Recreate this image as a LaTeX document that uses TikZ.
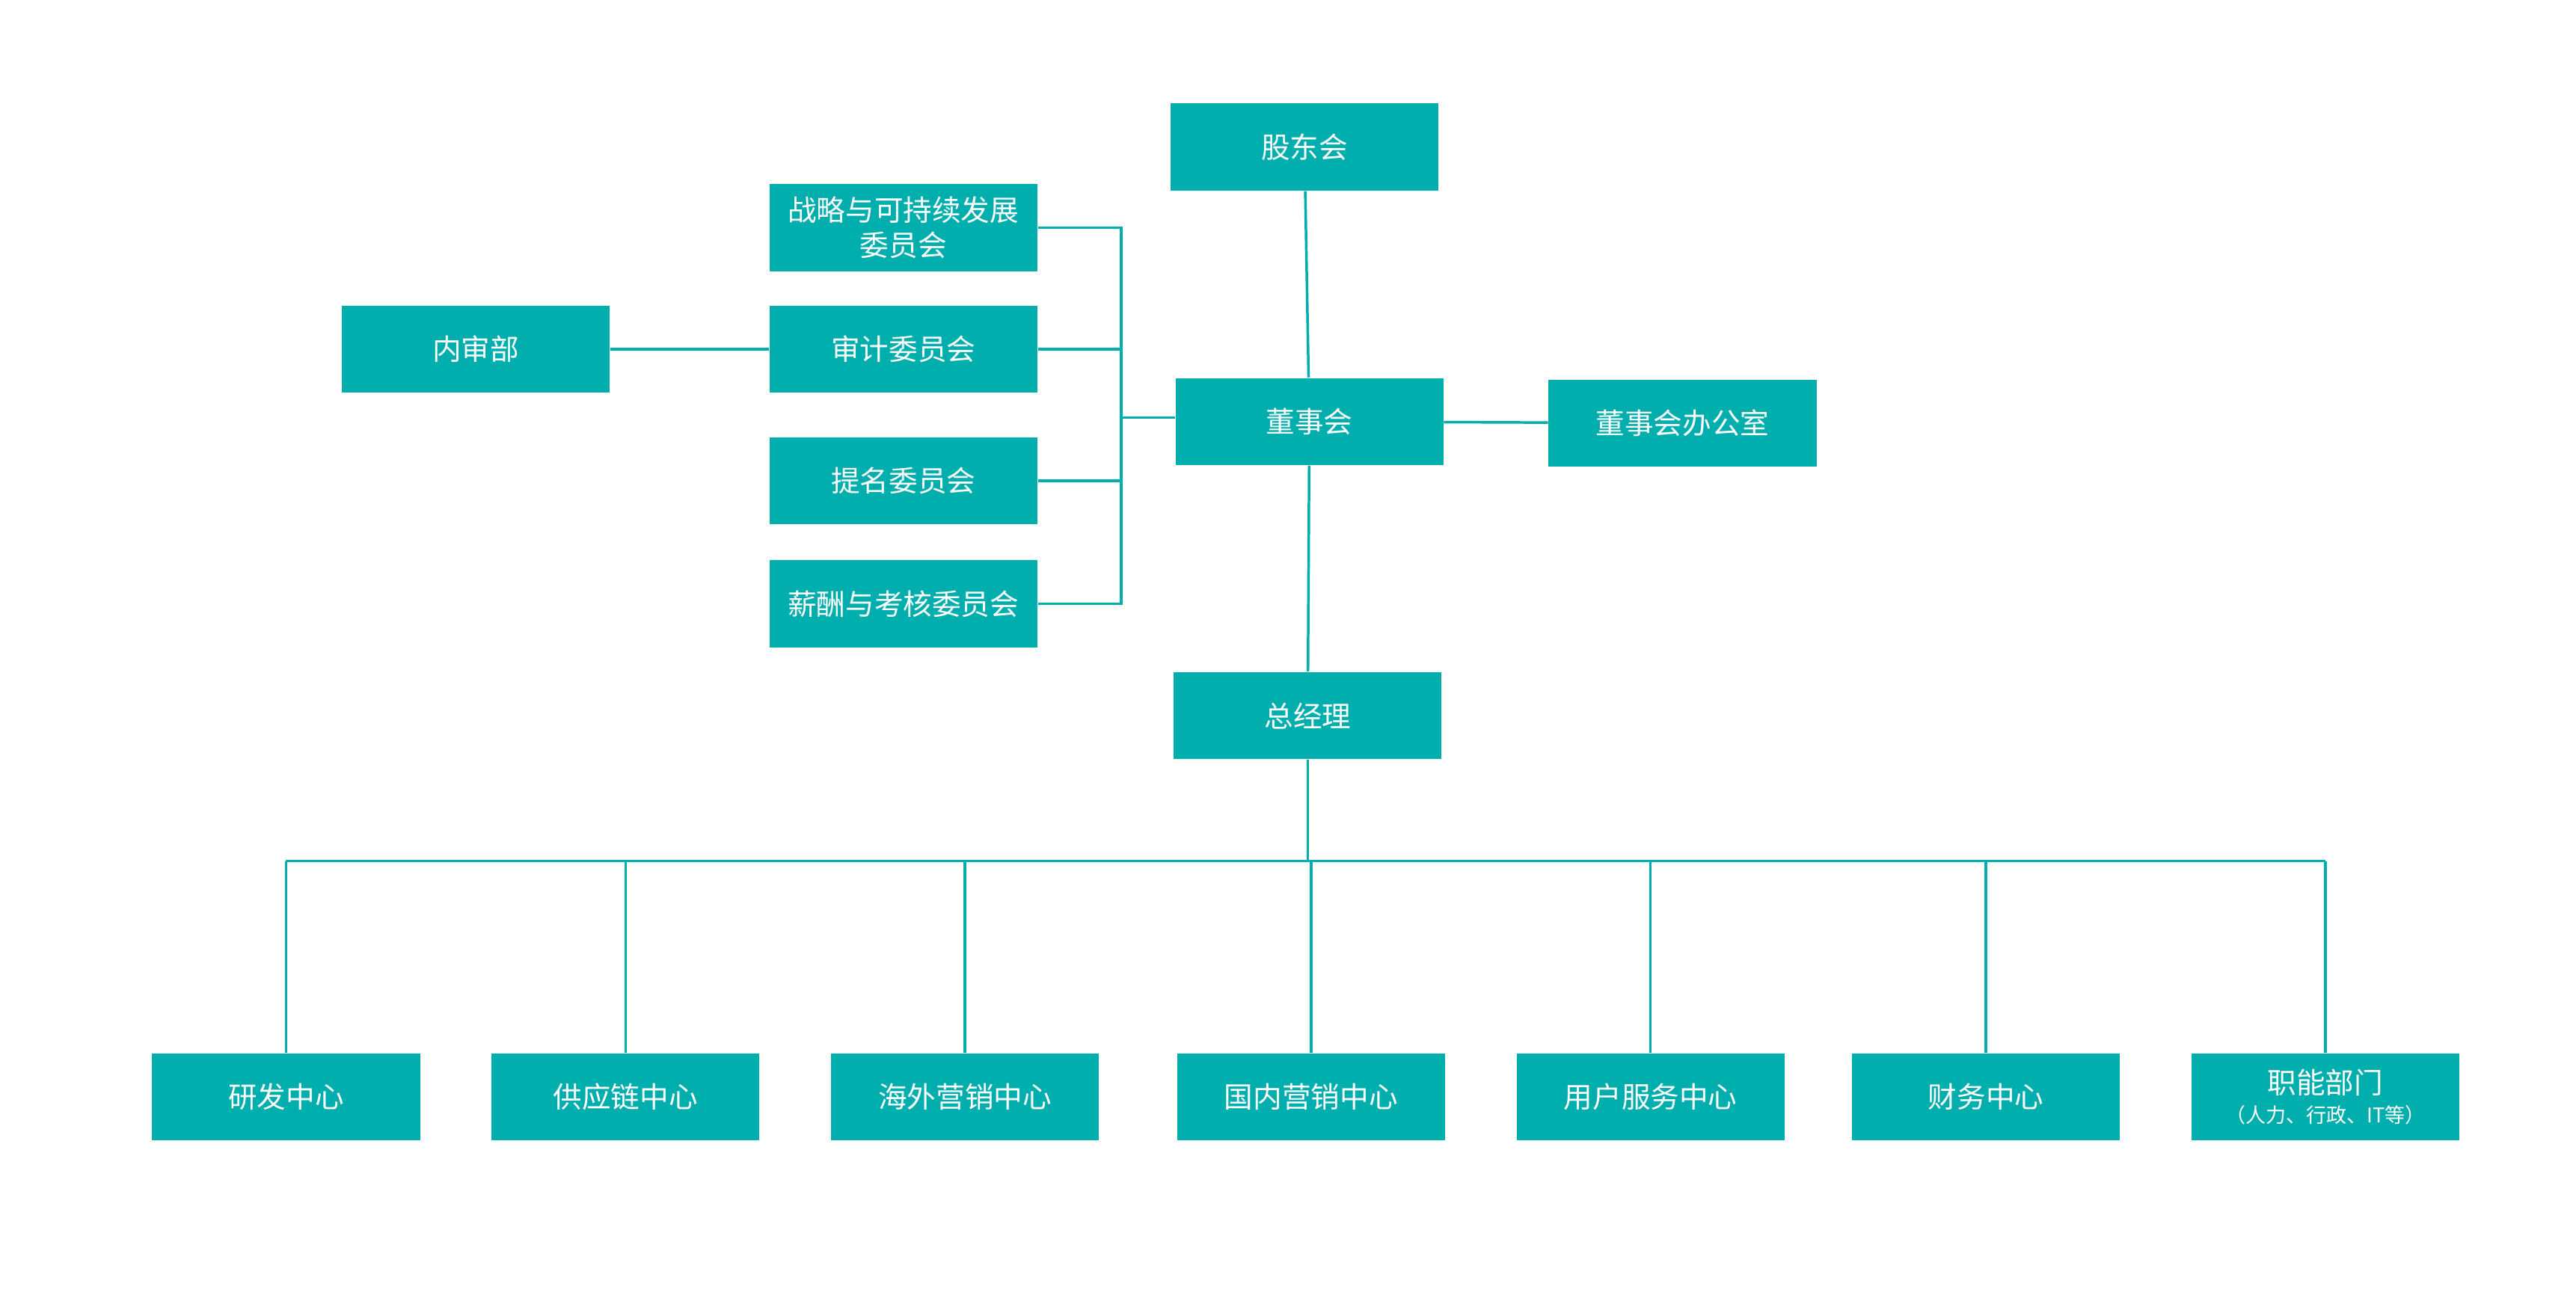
\documentclass[tikz,border=0pt]{standalone}
\usepackage{fontspec}
\newfontfamily\cjk{Noto Sans CJK SC}
\definecolor{teal0}{RGB}{0,174,174}
\begin{document}
\begin{tikzpicture}[x=0.02cm,y=-0.02cm,
    box/.style={fill=teal0,text=white,minimum width=3.26cm,minimum height=1.06cm,
      inner sep=1pt,align=center,font=\cjk\fontsize{10}{12}\selectfont},
    link/.style={draw=teal0,line width=0.9pt}]
        \useasboundingbox[fill=white] (0,0) rectangle (1567,797);

        % top level
        \node[box] (gdh) at (793.5,89.5) {股东会};
        \node[box] (dsh) at (796.5,256.5) {董事会};
        \node[box] (bgs) at (1023.5,257.5) {董事会办公室};
        \node[box] (zjl) at (795.5,435.5) {总经理};

        % committees
        \node[box] (zl) at (549.5,138.5) {战略与可持续发展\\委员会};
        \node[box] (sj) at (549.5,212.5) {审计委员会};
        \node[box] (ns) at (289.5,212.5) {内审部};
        \node[box] (tm) at (549.5,292.5) {提名委员会};
        \node[box] (xc) at (549.5,367.5) {薪酬与考核委员会};

        % centers
        \node[box] (yf) at (174,667.5) {研发中心};
        \node[box] (gyl) at (380.5,667.5) {供应链中心};
        \node[box] (hw) at (587,667.5) {海外营销中心};
        \node[box] (gn) at (797.5,667.5) {国内营销中心};
        \node[box] (yh) at (1004,667.5) {用户服务中心};
        \node[box] (cw) at (1208,667.5) {财务中心};
        \node[box] (zn) at (1414.5,667.5) {职能部门\\[-2pt]{\fontsize{7}{8}\selectfont （人力、行政、IT等）}};

        \coordinate (cbus) at (682,254);
        \coordinate (bus) at (0,524);

        \draw[link] (gdh) -- (dsh);
        \draw[link] (dsh) -- (bgs);
        \draw[link] (dsh) -- (zjl);
        \draw[link] (ns) -- (sj);
        \draw[link] (dsh.west |- cbus) -- (cbus);
        \draw[link] (zl.east) -- (zl.east -| cbus) -- (xc.east -| cbus) -- (xc.east);
        \foreach \n in {sj,tm}
            \draw[link] (\n.east) -- (\n.east -| cbus);

        \draw[link] (zjl.south) -- (zjl.south |- bus);
        \draw[link] (yf.north |- bus) -- (zn.north |- bus);
        \foreach \n in {yf,gyl,hw,gn,yh,cw,zn}
            \draw[link] (\n.north) -- (\n.north |- bus);
    \end{tikzpicture}
\end{document}
